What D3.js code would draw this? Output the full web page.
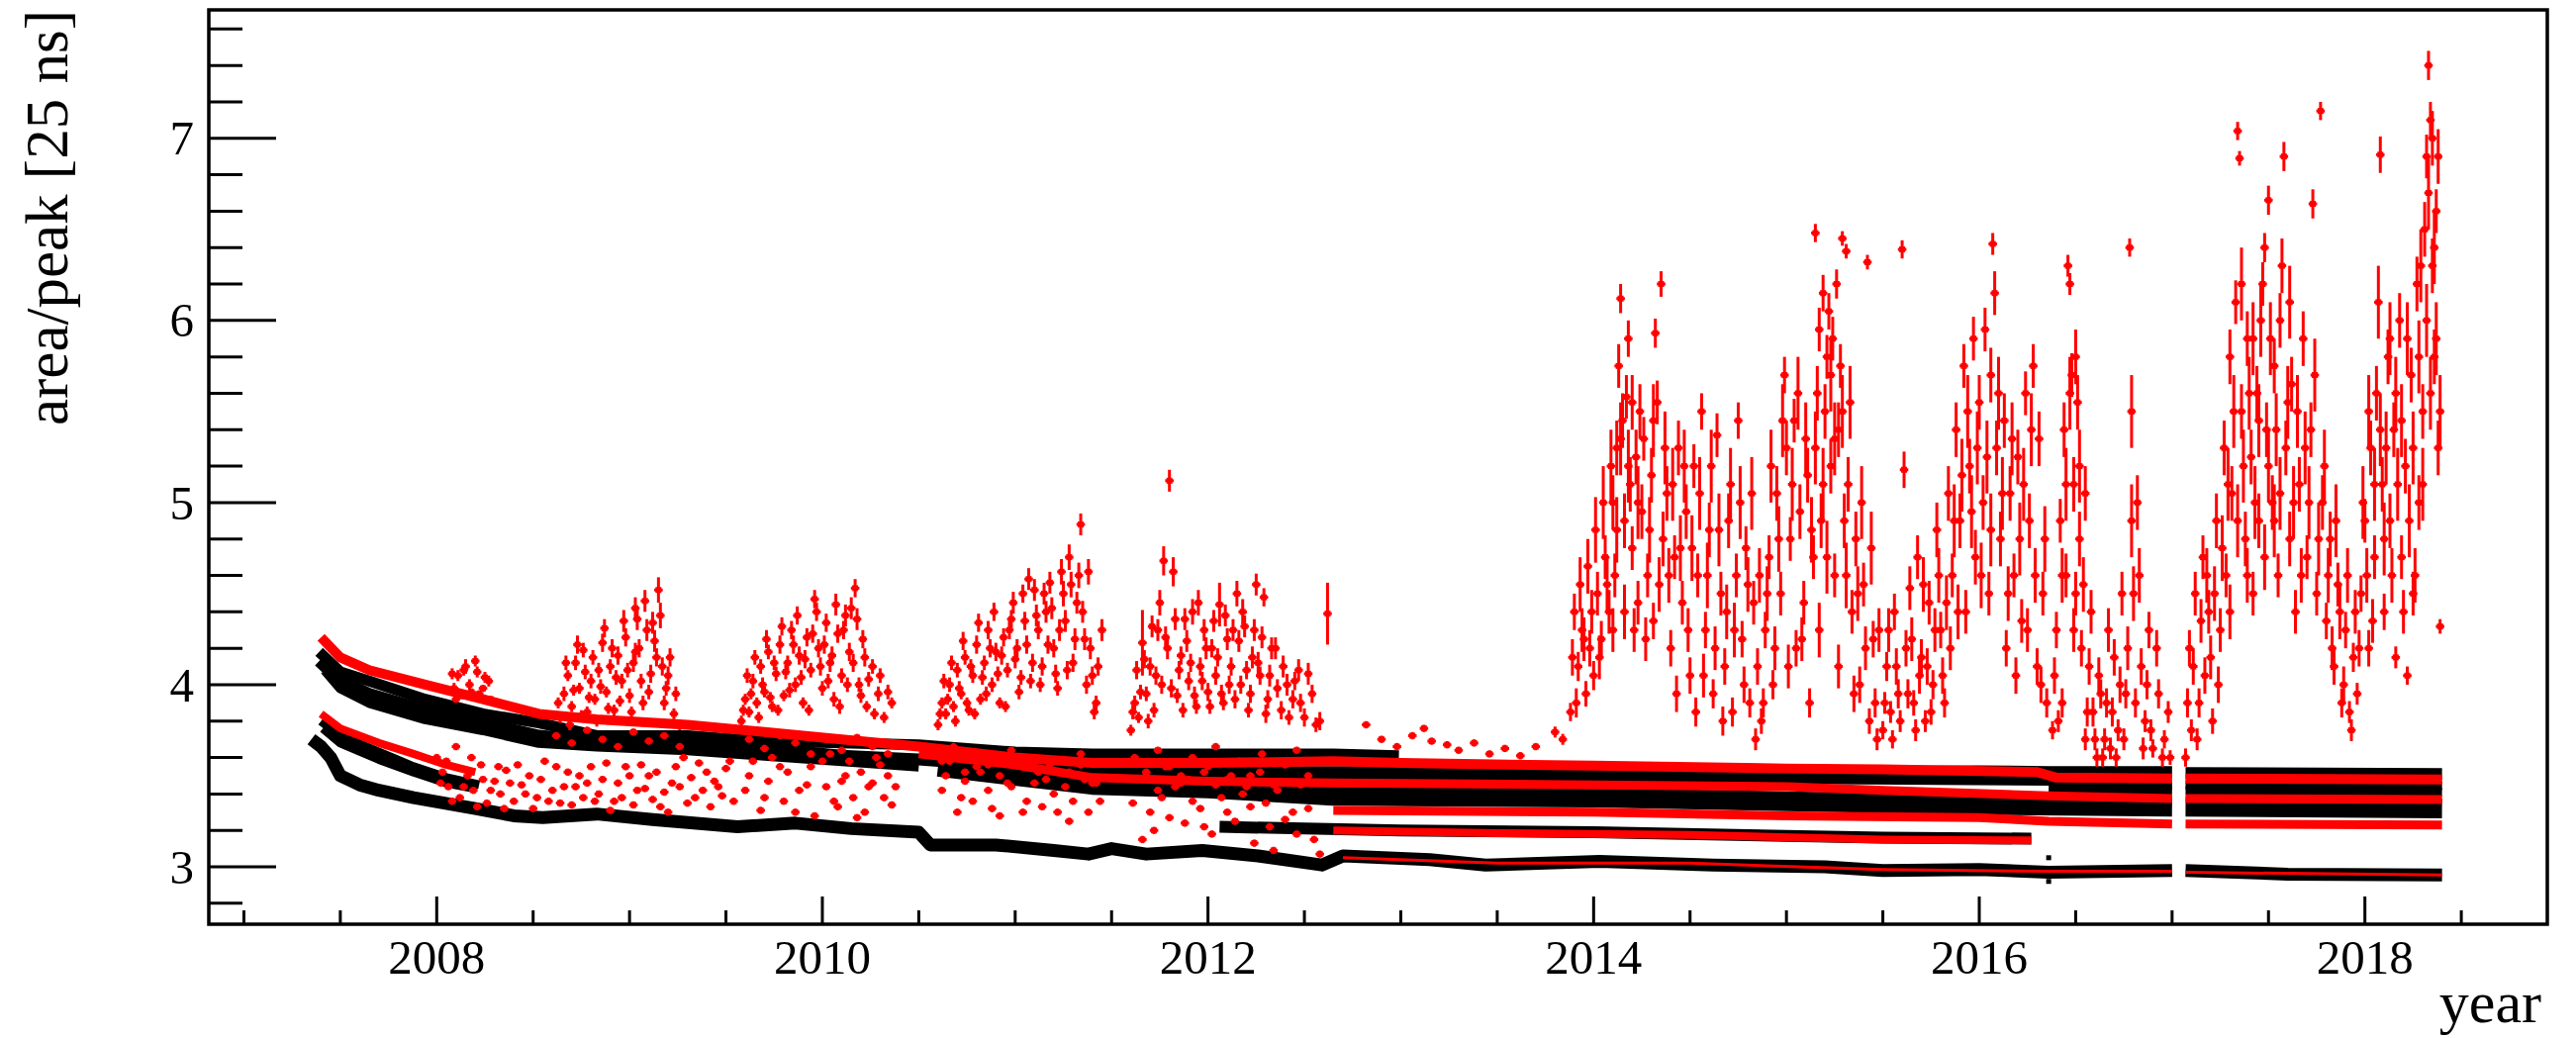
<!DOCTYPE html>
<html>
<head>
<meta charset="utf-8">
<script src="https://cdn.jsdelivr.net/npm/d3@7"></script>
<style>
  body { margin: 0; background: #fff; }
  text { font-family: "Liberation Serif", "Times New Roman", serif; fill: #000; }
</style>
</head>
<body>
<div id="chart"></div>
<script>
// ---- axis ticks ----
const yMajorTicks = [3, 4, 5, 6, 7];
const yMinorTicks = [2.8, 3.2, 3.4, 3.6, 3.8, 4.2, 4.4, 4.6, 4.8, 5.2, 5.4, 5.6, 5.8, 6.2, 6.4, 6.6, 6.8, 7.2, 7.4, 7.6];
const xMajorTicks = [2008, 2010, 2012, 2014, 2016, 2018];
const xMinorTicks = [2007, 2007.5, 2008.5, 2009, 2009.5, 2010.5, 2011, 2011.5, 2012.5, 2013, 2013.5,
                     2014.5, 2015, 2015.5, 2016.5, 2017, 2017.5, 2018.5];

// ---- stable channels: [year, area/peak], null = no data ----
const blackBottom = [[2007.35,3.7],[2007.4,3.66],[2007.45,3.6],[2007.5,3.5],[2007.6,3.45],[2007.7,3.42],[2007.88,3.38],
  [2008.2,3.32],[2008.4,3.28],[2008.55,3.27],[2008.83,3.29],[2009.12,3.26],[2009.56,3.22],[2009.86,3.24],[2010.15,3.21],
  [2010.5,3.19],[2010.56,3.12],[2010.9,3.12],[2011.2,3.09],[2011.38,3.07],[2011.5,3.1],[2011.68,3.07],[2011.97,3.09],
  [2012.26,3.06],[2012.59,3.01],[2012.7,3.06],[2013.15,3.04],[2013.44,3.01],[2014.03,3.03],[2014.62,3.01],[2015.2,3.0],
  [2015.5,2.98],[2016.0,2.985],[2016.36,2.97],[2017.0,2.98],[2017.03,null],[2017.07,2.98],[2017.6,2.96],[2018.4,2.955]];
const blackSecond = [[2012.06,3.22],[2012.5,3.21],[2013.0,3.2],[2014.0,3.19],[2015.0,3.17],[2015.5,3.16],[2016.27,3.155]];
const blackEarlyA = [[2007.4,3.8],[2007.5,3.72],[2007.7,3.63],[2007.88,3.55],[2008.05,3.49],[2008.22,3.45]];
const blackEarlyB = [[2007.41,3.76],[2007.5,3.68],[2007.7,3.59],[2007.88,3.52],[2008.05,3.46],[2008.2,3.43]];
const blackTopA = [[2007.39,4.18],[2007.5,4.07],[2007.65,4.02],[2007.94,3.92],[2008.24,3.84],[2008.53,3.79],[2008.83,3.72],
  [2009.3,3.72],[2009.7,3.69],[2010.1,3.68],[2010.5,3.67],[2011.0,3.63],[2011.4,3.62],[2012.0,3.62],[2012.65,3.62],[2012.99,3.61]];
const blackTopB = [[2007.39,4.13],[2007.5,4.02],[2007.65,3.95],[2007.94,3.86],[2008.24,3.79],[2008.53,3.72],[2008.83,3.69],
  [2009.3,3.67],[2009.7,3.65],[2010.1,3.61],[2010.5,3.59],[2011.0,3.55],[2011.4,3.53],[2012.0,3.52],[2012.65,3.52],[2013.0,3.52],
  [2014.0,3.52],[2015.0,3.52],[2016.0,3.525],[2016.36,3.52],[2017.0,3.52],[2017.03,null],[2017.07,3.515],[2018.4,3.51]];
const blackTopC = [[2007.42,4.08],[2007.5,3.98],[2007.65,3.9],[2007.94,3.81],[2008.24,3.75],[2008.53,3.68],[2008.83,3.66],
  [2009.3,3.64],[2009.7,3.61],[2010.1,3.58],[2010.5,3.55]];
const blackMain = [[2011.0,3.51],[2012.0,3.49],[2012.65,3.49],[2014.0,3.485],[2015.0,3.48],[2016.36,3.47],[2017.0,3.45],
  [2017.03,null],[2017.07,3.45],[2018.4,3.445]];
const blackMid = [[2010.6,3.55],[2011.0,3.5],[2011.4,3.45],[2012.0,3.43],[2012.65,3.39],[2014.0,3.38],[2015.0,3.36],
  [2016.0,3.34],[2017.0,3.33],[2017.03,null],[2017.07,3.33],[2018.4,3.32]];
const blackMidB = [[2016.36,3.43],[2017.0,3.42],[2017.03,null],[2017.07,3.42],[2018.4,3.41]];
const redTop = [[2007.4,4.26],[2007.5,4.15],[2007.65,4.08],[2007.94,4.0],[2008.24,3.92],[2008.53,3.84],[2008.83,3.81],
  [2009.3,3.78],[2009.7,3.74],[2010.1,3.7],[2010.5,3.66],[2011.0,3.6],[2011.4,3.57],[2012.0,3.57],[2012.65,3.58],[2013.0,3.57],
  [2014.0,3.555],[2015.0,3.54],[2015.5,3.535],[2016.3,3.52],[2016.4,3.49],[2017.0,3.485],[2017.03,null],[2017.07,3.485],[2018.4,3.48]];
const redEarly = [[2007.4,3.84],[2007.5,3.76],[2007.7,3.68],[2007.88,3.62],[2008.05,3.56],[2008.2,3.52]];
const redMid = [[2010.5,3.62],[2011.0,3.56],[2011.4,3.49],[2012.0,3.47],[2012.65,3.46],[2014.0,3.45],[2015.0,3.44],
  [2015.5,3.42],[2016.36,3.39],[2017.0,3.375],[2017.03,null],[2017.07,3.375],[2018.4,3.37]];
const redLow = [[2012.65,3.31],[2014.0,3.3],[2015.0,3.28],[2016.0,3.27],[2016.36,3.25],[2017.0,3.235],[2017.03,null],
  [2017.07,3.235],[2018.4,3.23]];
const redSecond = [[2012.65,3.2],[2013.5,3.185],[2014.5,3.175],[2015.5,3.15],[2016.27,3.145]];
const redBottom = [[2012.7,3.05],[2013.5,3.02],[2014.5,3.02],[2015.5,2.985],[2016.36,2.975],[2017.0,2.975],[2017.03,null],
  [2017.07,2.97],[2018.4,2.955]];
const blackDots = [[2016.36,3.05],[2016.36,2.95],[2016.36,2.92]];

// ---- unstable channel: [year, area/peak, error] ----
const redInBand = [[2008.62,3.72,0.02],[2008.7,3.68,0.02],[2008.78,3.75,0.02],[2008.86,3.7,0.02],[2008.94,3.66,0.02],
  [2009.02,3.74,0.02],[2009.1,3.69,0.02],[2009.18,3.72,0.02],[2009.26,3.66,0.02],[2009.62,3.7,0.02],[2009.7,3.65,0.02],
  [2009.78,3.72,0.02],[2009.86,3.68,0.02],[2009.94,3.62,0.02],[2010.02,3.7,0.02],[2010.1,3.64,0.02],[2010.18,3.71,0.02],
  [2010.26,3.66,0.02],[2010.34,3.62,0.02],[2010.62,3.58,0.02],[2010.68,3.66,0.02],[2010.74,3.52,0.02],[2010.8,3.62,0.02],
  [2010.86,3.56,0.02],[2010.92,3.5,0.02],[2010.98,3.64,0.02],[2011.04,3.55,0.02],[2011.1,3.6,0.02],[2011.16,3.48,0.02],
  [2011.22,3.58,0.02],[2011.28,3.52,0.02],[2011.34,3.62,0.02],[2011.4,3.46,0.02],[2011.62,3.6,0.02],[2011.68,3.5,0.02],
  [2011.74,3.64,0.02],[2011.8,3.55,0.02],[2011.86,3.46,0.02],[2011.92,3.6,0.02],[2011.98,3.52,0.02],[2012.04,3.66,0.02],
  [2012.1,3.48,0.02],[2012.16,3.58,0.02],[2012.22,3.5,0.02],[2012.28,3.62,0.02],[2012.34,3.45,0.02],[2012.4,3.56,0.02],
  [2012.46,3.64,0.02],[2012.52,3.5,0.02],[2012.58,3.58,0.02]];
const red2008 = [[2008.09,3.98,0.03],[2008.11,4.05,0.03],[2008.13,3.94,0.02],[2008.15,4.1,0.04],[2008.17,4.0,0.03],
  [2008.2,4.13,0.03],[2008.22,3.95,0.02],[2008.25,4.04,0.03],[2008.28,3.92,0.02],[2008.08,4.06,0.03],[2008.1,3.92,0.02],
  [2008.14,4.08,0.03],[2008.18,3.96,0.02],[2008.21,4.07,0.03],[2008.24,3.98,0.02],[2008.27,4.02,0.03],
  [2008.0,3.6,0.02],[2008.03,3.52,0.02],[2008.06,3.44,0.02],[2008.1,3.66,0.02],[2008.12,3.38,0.02],[2008.16,3.5,0.02],
  [2008.19,3.42,0.02],[2008.23,3.56,0.02],[2008.26,3.35,0.02],[2008.3,3.47,0.02],[2008.33,3.4,0.02],[2008.36,3.53,0.02],
  [2008.4,3.36,0.02],[2008.44,3.45,0.02],[2008.48,3.5,0.02],[2008.52,3.38,0.02],[2008.56,3.58,0.02],[2008.6,3.42,0.02],
  [2008.64,3.35,0.02],[2008.68,3.52,0.02],[2008.72,3.44,0.02],[2008.76,3.38,0.02],[2008.8,3.55,0.02],
  [2008.02,3.46,0.02],[2008.05,3.58,0.02],[2008.08,3.36,0.02],[2008.14,3.44,0.02],[2008.18,3.6,0.02],[2008.21,3.33,0.02],
  [2008.24,3.48,0.02],[2008.28,3.42,0.02],[2008.32,3.55,0.02],[2008.35,3.32,0.02],[2008.38,3.46,0.02],[2008.42,3.56,0.02],
  [2008.46,3.4,0.02],[2008.5,3.32,0.02],[2008.54,3.48,0.02],[2008.58,3.36,0.02],[2008.62,3.55,0.02],[2008.66,3.44,0.02],
  [2008.7,3.34,0.02],[2008.74,3.5,0.02],[2008.78,3.46,0.02],[2008.82,3.36,0.02]];
const red2009 = [[2008.64,3.82,0.03],[2008.66,3.95,0.04],[2008.68,4.05,0.03],[2008.7,3.88,0.03],[2008.72,4.12,0.04],
  [2008.74,3.98,0.03],[2008.76,4.19,0.04],[2008.78,3.85,0.03],[2008.8,4.02,0.04],[2008.82,3.92,0.03],[2008.84,4.08,0.04],
  [2008.86,4.23,0.05],[2008.88,3.96,0.03],[2008.9,4.1,0.04],[2008.92,3.86,0.03],[2008.94,4.16,0.05],[2008.96,4.02,0.04],
  [2008.98,4.26,0.05],[2009.0,3.94,0.04],[2009.02,4.12,0.05],[2009.03,4.42,0.06],[2009.05,4.2,0.05],[2009.07,3.9,0.04],
  [2009.09,4.3,0.06],[2009.11,4.06,0.05],[2009.13,4.24,0.06],[2009.15,4.52,0.07],[2009.17,4.1,0.05],[2009.19,3.98,0.04],
  [2009.21,4.15,0.05],[2009.23,3.84,0.03],[2009.26,3.78,0.03],
  [2008.63,3.9,0.03],[2008.67,4.12,0.04],[2008.69,3.78,0.03],[2008.71,3.97,0.03],[2008.73,4.22,0.05],[2008.75,3.83,0.03],
  [2008.77,4.07,0.04],[2008.79,3.93,0.03],[2008.81,4.15,0.04],[2008.83,3.8,0.03],[2008.85,3.99,0.04],[2008.87,4.31,0.05],
  [2008.89,3.87,0.03],[2008.91,4.2,0.05],[2008.93,4.04,0.04],[2008.95,3.91,0.03],[2008.97,4.35,0.06],[2008.99,4.08,0.04],
  [2009.01,3.85,0.03],[2009.03,4.18,0.05],[2009.04,4.36,0.06],[2009.06,4.02,0.04],[2009.08,4.46,0.06],[2009.1,3.96,0.04],
  [2009.12,4.34,0.06],[2009.14,4.15,0.05],[2009.16,4.38,0.07],[2009.18,3.9,0.04],[2009.2,4.05,0.05],[2009.24,3.95,0.04],
  [2008.86,3.48,0.02],[2008.92,3.36,0.02],[2008.98,3.55,0.02],[2009.04,3.42,0.02],[2009.1,3.5,0.02],[2009.16,3.33,0.02],
  [2009.22,3.46,0.02],[2009.28,3.6,0.02],[2009.34,3.38,0.02],[2009.4,3.52,0.02],[2009.46,3.44,0.02],[2009.52,3.58,0.02],
  [2008.84,3.4,0.02],[2008.88,3.57,0.02],[2008.9,3.31,0.02],[2008.94,3.46,0.02],[2008.96,3.38,0.02],[2009.0,3.5,0.02],
  [2009.02,3.34,0.02],[2009.06,3.56,0.02],[2009.08,3.43,0.02],[2009.12,3.37,0.02],[2009.14,3.52,0.02],[2009.18,3.41,0.02],
  [2009.2,3.3,0.02],[2009.24,3.55,0.02],[2009.26,3.44,0.02],[2009.3,3.35,0.02],[2009.32,3.49,0.02],[2009.36,3.57,0.02],
  [2009.38,3.42,0.02],[2009.42,3.33,0.02],[2009.44,3.47,0.02],[2009.48,3.39,0.02],[2009.5,3.54,0.02],[2009.54,3.36,0.02]];
const red2010 = [[2009.58,3.8,0.03],[2009.6,3.92,0.03],[2009.62,3.85,0.03],[2009.64,4.02,0.04],[2009.66,3.9,0.03],
  [2009.68,4.1,0.04],[2009.7,3.96,0.03],[2009.72,4.18,0.04],[2009.74,3.88,0.03],[2009.76,4.06,0.04],[2009.78,4.22,0.05],
  [2009.8,3.94,0.03],[2009.82,4.12,0.04],[2009.84,4.3,0.05],[2009.86,4.0,0.04],[2009.88,4.16,0.05],[2009.9,3.9,0.03],
  [2009.92,4.26,0.05],[2009.94,4.08,0.04],[2009.96,4.47,0.05],[2009.98,4.2,0.05],[2010.0,3.98,0.04],[2010.02,4.34,0.05],
  [2010.04,4.12,0.05],[2010.06,3.92,0.04],[2010.08,4.28,0.05],[2010.1,4.05,0.04],[2010.12,4.38,0.06],[2010.14,4.18,0.05],
  [2010.17,4.53,0.05],[2010.19,4.0,0.04],[2010.21,4.25,0.05],[2010.23,3.88,0.03],[2010.26,4.1,0.04],[2010.29,3.95,0.04],
  [2010.32,3.82,0.03],[2010.36,3.9,0.03],
  [2009.59,3.86,0.03],[2009.61,4.05,0.04],[2009.63,3.95,0.03],[2009.65,4.15,0.04],[2009.67,3.82,0.03],[2009.69,4.0,0.04],
  [2009.71,4.25,0.05],[2009.73,3.93,0.03],[2009.75,4.12,0.04],[2009.77,3.86,0.03],[2009.79,4.32,0.05],[2009.81,4.07,0.04],
  [2009.83,3.97,0.04],[2009.85,4.22,0.05],[2009.87,4.38,0.05],[2009.89,4.04,0.04],[2009.91,4.14,0.05],[2009.93,3.86,0.03],
  [2009.95,4.28,0.05],[2009.97,4.4,0.05],[2009.99,4.1,0.05],[2010.01,4.22,0.05],[2010.03,4.02,0.04],[2010.05,4.16,0.05],
  [2010.07,4.44,0.06],[2010.09,3.88,0.04],[2010.11,4.3,0.05],[2010.13,4.0,0.04],[2010.15,4.42,0.06],[2010.16,4.12,0.05],
  [2010.18,4.36,0.06],[2010.2,3.94,0.04],[2010.22,4.15,0.05],[2010.24,4.03,0.04],[2010.27,3.84,0.03],[2010.3,4.05,0.04],
  [2010.34,3.96,0.04],
  [2009.62,3.5,0.02],[2009.7,3.38,0.02],[2009.78,3.55,0.02],[2009.86,3.3,0.02],[2009.92,3.45,0.02],[2010.0,3.58,0.02],
  [2010.06,3.36,0.02],[2010.12,3.5,0.02],[2010.18,3.27,0.02],[2010.24,3.44,0.02],[2010.3,3.56,0.02],[2010.36,3.34,0.02],
  [2009.6,3.42,0.02],[2009.64,3.58,0.02],[2009.68,3.31,0.02],[2009.72,3.47,0.02],[2009.74,3.6,0.02],[2009.8,3.36,0.02],
  [2009.82,3.52,0.02],[2009.88,3.42,0.02],[2009.94,3.55,0.02],[2009.96,3.28,0.02],[2010.02,3.44,0.02],[2010.04,3.62,0.02],
  [2010.08,3.33,0.02],[2010.1,3.47,0.02],[2010.14,3.58,0.02],[2010.16,3.38,0.02],[2010.2,3.52,0.02],[2010.22,3.3,0.02],
  [2010.26,3.46,0.02],[2010.28,3.6,0.02],[2010.32,3.38,0.02],[2010.34,3.5,0.02],[2010.38,3.44,0.02]];
const red2011 = [[2010.6,3.78,0.03],[2010.62,3.9,0.03],[2010.64,3.84,0.03],[2010.66,4.0,0.04],[2010.68,3.88,0.03],
  [2010.7,4.08,0.04],[2010.72,3.95,0.03],[2010.74,4.15,0.04],[2010.76,3.86,0.03],[2010.78,4.05,0.04],[2010.8,4.22,0.05],
  [2010.82,3.92,0.03],[2010.84,4.12,0.04],[2010.86,4.3,0.05],[2010.88,4.0,0.04],[2010.9,4.18,0.05],[2010.92,3.9,0.03],
  [2010.94,4.26,0.05],[2010.96,4.08,0.04],[2010.98,4.36,0.05],[2011.0,4.14,0.05],[2011.02,3.96,0.04],[2011.04,4.5,0.05],
  [2011.06,4.22,0.05],[2011.08,4.02,0.04],[2011.1,4.52,0.06],[2011.12,4.3,0.05],[2011.14,4.1,0.05],[2011.16,4.4,0.06],
  [2011.18,4.56,0.06],[2011.2,4.2,0.05],[2011.22,3.98,0.04],[2011.24,4.62,0.07],[2011.26,4.35,0.06],[2011.28,4.7,0.07],
  [2011.3,4.12,0.05],[2011.32,4.45,0.06],[2011.34,4.88,0.06],[2011.36,4.25,0.06],[2011.38,4.62,0.07],[2011.4,4.05,0.05],
  [2011.42,3.9,0.04],[2011.45,4.3,0.06],
  [2010.61,3.84,0.03],[2010.63,4.02,0.04],[2010.65,3.92,0.03],[2010.67,4.12,0.04],[2010.69,3.8,0.03],[2010.71,3.98,0.04],
  [2010.73,4.24,0.05],[2010.75,3.9,0.03],[2010.77,4.1,0.04],[2010.79,3.84,0.03],[2010.81,4.34,0.05],[2010.83,4.04,0.04],
  [2010.85,3.95,0.04],[2010.87,4.2,0.05],[2010.89,4.4,0.05],[2010.91,4.06,0.04],[2010.93,4.16,0.05],[2010.95,3.88,0.03],
  [2010.97,4.3,0.05],[2010.99,4.45,0.06],[2011.01,4.2,0.05],[2011.03,4.04,0.04],[2011.05,4.35,0.05],[2011.07,4.58,0.06],
  [2011.09,4.12,0.05],[2011.11,4.38,0.06],[2011.13,4.0,0.04],[2011.15,4.5,0.06],[2011.17,4.22,0.05],[2011.19,4.42,0.06],
  [2011.21,4.06,0.05],[2011.23,4.3,0.06],[2011.25,4.5,0.07],[2011.27,4.08,0.05],[2011.29,4.55,0.07],[2011.31,4.25,0.06],
  [2011.33,4.6,0.07],[2011.35,4.4,0.06],[2011.37,4.0,0.05],[2011.39,4.2,0.06],[2011.41,3.85,0.04],[2011.43,4.1,0.05],
  [2010.64,3.5,0.02],[2010.72,3.38,0.02],[2010.8,3.55,0.02],[2010.88,3.32,0.02],[2010.96,3.46,0.02],[2011.04,3.3,0.02],
  [2011.12,3.52,0.02],[2011.2,3.4,0.02],[2011.28,3.25,0.02],[2011.36,3.48,0.02],[2011.44,3.36,0.02],
  [2010.62,3.42,0.02],[2010.66,3.58,0.02],[2010.7,3.3,0.02],[2010.74,3.47,0.02],[2010.78,3.36,0.02],[2010.82,3.52,0.02],
  [2010.86,3.42,0.02],[2010.9,3.58,0.02],[2010.92,3.28,0.02],[2010.98,3.44,0.02],[2011.02,3.56,0.02],[2011.06,3.36,0.02],
  [2011.1,3.46,0.02],[2011.14,3.33,0.02],[2011.18,3.56,0.02],[2011.22,3.3,0.02],[2011.26,3.44,0.02],[2011.3,3.36,0.02],
  [2011.34,3.56,0.02],[2011.38,3.3,0.02],[2011.42,3.46,0.02]];
const red2012 = [[2011.6,3.75,0.03],[2011.62,3.9,0.04],[2011.64,3.82,0.03],[2011.66,4.23,0.18],[2011.68,3.95,0.04],
  [2011.7,4.1,0.05],[2011.72,3.86,0.04],[2011.74,4.3,0.06],[2011.76,4.0,0.05],[2011.77,4.68,0.08],[2011.79,4.2,0.06],
  [2011.8,5.12,0.06],[2011.82,4.62,0.08],[2011.84,3.94,0.04],[2011.86,4.16,0.05],[2011.88,4.36,0.06],[2011.9,4.02,0.05],
  [2011.92,4.4,0.07],[2011.94,3.88,0.04],[2011.96,4.1,0.05],[2011.98,4.3,0.06],[2012.0,3.96,0.05],[2012.02,4.2,0.05],
  [2012.04,4.05,0.05],[2012.06,4.44,0.12],[2012.08,3.9,0.04],[2012.1,4.25,0.06],[2012.12,4.1,0.05],[2012.15,4.5,0.07],
  [2012.17,4.0,0.05],[2012.19,4.32,0.06],[2012.21,3.86,0.04],[2012.23,4.15,0.06],[2012.25,4.55,0.06],[2012.27,4.05,0.05],
  [2012.29,4.48,0.05],[2012.31,3.92,0.05],[2012.33,4.2,0.06],[2012.36,3.98,0.05],[2012.39,4.1,0.06],[2012.42,3.82,0.04],
  [2012.45,4.02,0.05],[2012.48,3.9,0.05],[2012.52,4.06,0.06],[2012.56,3.78,0.04],[2012.62,4.39,0.17],
  [2011.61,3.85,0.04],[2011.63,4.08,0.05],[2011.65,3.96,0.04],[2011.67,4.14,0.05],[2011.69,3.8,0.04],[2011.71,4.32,0.06],
  [2011.73,4.05,0.05],[2011.75,4.45,0.07],[2011.78,4.26,0.06],[2011.81,3.98,0.05],[2011.83,4.36,0.06],[2011.85,4.08,0.05],
  [2011.87,3.86,0.04],[2011.89,4.24,0.06],[2011.91,4.12,0.05],[2011.93,3.94,0.05],[2011.95,4.45,0.07],[2011.97,4.02,0.05],
  [2011.99,4.2,0.06],[2012.01,3.88,0.04],[2012.03,4.35,0.06],[2012.05,4.15,0.05],[2012.07,3.95,0.05],[2012.09,4.38,0.06],
  [2012.11,4.0,0.05],[2012.13,4.3,0.06],[2012.14,3.92,0.05],[2012.16,4.24,0.06],[2012.18,4.4,0.07],[2012.2,4.08,0.05],
  [2012.22,3.95,0.05],[2012.24,4.3,0.06],[2012.26,4.12,0.06],[2012.28,4.26,0.06],[2012.3,3.84,0.05],[2012.32,4.05,0.06],
  [2012.35,4.2,0.06],[2012.38,3.86,0.05],[2012.41,4.0,0.06],[2012.44,3.92,0.05],[2012.47,4.08,0.06],[2012.5,3.82,0.05],
  [2012.54,3.95,0.05],[2012.58,3.8,0.05],
  [2011.63,3.48,0.02],[2011.66,3.15,0.02],[2011.7,3.3,0.02],[2011.74,3.42,0.02],[2011.8,3.27,0.02],[2011.86,3.5,0.02],
  [2011.92,3.36,0.02],[2011.98,3.22,0.02],[2012.04,3.45,0.02],[2012.1,3.3,0.02],[2012.18,3.4,0.02],[2012.24,3.13,0.02],
  [2012.3,3.35,0.02],[2012.34,3.09,0.02],[2012.4,3.26,0.02],[2012.46,3.18,0.02],[2012.52,3.32,0.02],[2012.58,3.07,0.02],
  [2011.61,3.35,0.02],[2011.68,3.52,0.02],[2011.72,3.2,0.02],[2011.76,3.38,0.02],[2011.78,3.55,0.02],[2011.83,3.44,0.02],
  [2011.88,3.24,0.02],[2011.9,3.48,0.02],[2011.96,3.32,0.02],[2012.0,3.55,0.02],[2012.02,3.18,0.02],[2012.07,3.38,0.02],
  [2012.12,3.5,0.02],[2012.14,3.25,0.02],[2012.2,3.44,0.02],[2012.22,3.33,0.02],[2012.27,3.52,0.02],[2012.32,3.22,0.02],
  [2012.36,3.42,0.02],[2012.44,3.3,0.02],[2012.48,3.45,0.02],[2012.55,3.15,0.02]];
const red2013 = [[2012.82,3.78,0.02],[2012.9,3.7,0.02],[2012.98,3.66,0.02],[2013.06,3.72,0.02],[2013.12,3.76,0.02],
  [2013.16,3.69,0.02],[2013.24,3.67,0.02],[2013.3,3.64,0.02],[2013.38,3.68,0.02],[2013.46,3.62,0.02],[2013.54,3.65,0.02],
  [2013.62,3.61,0.02],[2013.7,3.66,0.02],[2013.8,3.74,0.03],[2013.84,3.7,0.03]];
const red2014 = [[2013.88,3.85,0.05],[2013.9,4.4,0.1],[2013.92,4.1,0.08],[2013.94,4.3,0.12],[2013.96,3.95,0.07],
  [2013.98,4.2,0.1],[2014.0,4.05,0.08],[2014.02,4.5,0.12],[2014.04,4.25,0.1],[2014.06,4.7,0.12],[2014.08,4.4,0.12],
  [2014.1,5.0,0.15],[2014.11,4.6,0.12],[2014.12,5.3,0.15],[2014.13,5.75,0.12],[2014.14,6.12,0.08],[2014.15,5.45,0.15],
  [2014.16,4.9,0.15],[2014.17,5.58,0.12],[2014.18,5.9,0.1],[2014.19,5.1,0.15],[2014.2,4.75,0.12],[2014.22,5.25,0.15],
  [2014.23,4.45,0.12],[2014.25,4.95,0.15],[2014.26,5.35,0.12],[2014.28,4.6,0.12],[2014.3,5.15,0.15],[2014.31,4.35,0.1],
  [2014.32,5.93,0.08],[2014.33,5.55,0.12],[2014.35,6.2,0.07],[2014.36,4.8,0.15],[2014.38,5.05,0.15],[2014.4,4.2,0.1],
  [2014.42,4.7,0.12],[2014.44,5.3,0.15],[2014.46,4.45,0.12],[2014.48,4.95,0.15],[2014.5,4.05,0.1],[2014.52,5.2,0.12],
  [2014.54,4.6,0.12],[2014.56,5.5,0.1],[2014.58,4.3,0.1],[2014.6,4.85,0.15],[2014.62,3.95,0.08],[2014.64,5.37,0.12],
  [2014.66,4.5,0.12],[2014.68,4.1,0.1],[2014.7,4.9,0.15],[2014.72,3.85,0.08],[2014.74,4.6,0.12],[2014.75,5.45,0.1],
  [2014.77,4.25,0.1],[2014.79,4.75,0.12],[2014.81,3.9,0.08],[2014.83,4.45,0.12],[2014.85,4.1,0.1],[2014.87,3.8,0.07],
  [2013.89,4.15,0.1],[2013.91,3.9,0.08],[2013.93,4.55,0.15],[2013.95,4.25,0.12],[2013.97,4.65,0.15],[2013.99,4.4,0.12],
  [2014.01,4.85,0.18],[2014.03,4.15,0.12],[2014.05,5.0,0.2],[2014.07,4.55,0.15],[2014.09,5.2,0.2],[2014.1,4.3,0.12],
  [2014.12,4.85,0.18],[2014.14,5.35,0.2],[2014.16,4.4,0.15],[2014.18,5.2,0.2],[2014.2,5.55,0.15],[2014.21,4.3,0.12],
  [2014.23,5.0,0.2],[2014.24,5.5,0.15],[2014.27,4.25,0.12],[2014.29,4.85,0.18],[2014.31,5.45,0.2],[2014.34,4.55,0.15],
  [2014.37,5.3,0.2],[2014.39,4.6,0.15],[2014.41,5.1,0.2],[2014.43,3.95,0.1],[2014.45,4.75,0.18],[2014.47,5.2,0.2],
  [2014.49,4.3,0.12],[2014.51,4.75,0.18],[2014.53,3.85,0.08],[2014.55,5.05,0.2],[2014.57,4.05,0.12],[2014.59,4.6,0.18],
  [2014.61,5.2,0.2],[2014.63,4.2,0.12],[2014.65,4.85,0.2],[2014.67,3.8,0.08],[2014.69,4.4,0.15],[2014.71,5.1,0.2],
  [2014.73,4.3,0.15],[2014.76,5.0,0.2],[2014.78,4.0,0.1],[2014.8,4.55,0.15],[2014.82,5.05,0.2],[2014.84,3.7,0.06],
  [2014.86,4.6,0.15]];
const red2015 = [[2014.89,4.3,0.1],[2014.91,4.7,0.12],[2014.93,4.0,0.08],[2014.95,5.05,0.15],[2014.97,4.5,0.12],
  [2014.99,5.7,0.1],[2015.0,5.3,0.15],[2015.02,4.8,0.12],[2015.04,5.45,0.12],[2015.05,4.2,0.1],[2015.07,4.95,0.15],
  [2015.09,4.45,0.12],[2015.11,5.15,0.15],[2015.12,3.9,0.08],[2015.14,4.7,0.12],[2015.15,6.48,0.05],[2015.16,5.6,0.15],
  [2015.17,5.95,0.12],[2015.18,4.9,0.15],[2015.19,6.15,0.1],[2015.2,5.5,0.15],[2015.21,5.8,0.12],[2015.22,6.05,0.1],
  [2015.23,5.2,0.15],[2015.24,5.9,0.12],[2015.25,4.6,0.12],[2015.26,6.2,0.08],[2015.27,5.4,0.15],[2015.28,5.75,0.12],
  [2015.29,6.45,0.04],[2015.3,4.9,0.15],[2015.31,6.38,0.04],[2015.32,5.1,0.15],[2015.34,4.4,0.12],[2015.36,4.8,0.15],
  [2015.38,4.0,0.1],[2015.4,4.55,0.12],[2015.42,6.32,0.04],[2015.43,3.8,0.07],[2015.45,4.25,0.1],[2015.47,3.7,0.06],
  [2014.88,3.9,0.08],[2014.9,4.5,0.15],[2014.92,5.2,0.2],[2014.94,4.2,0.12],[2014.96,4.8,0.18],[2014.98,5.45,0.2],
  [2015.01,4.1,0.12],[2015.03,5.1,0.2],[2015.06,5.6,0.2],[2015.08,4.25,0.12],[2015.1,5.35,0.2],[2015.13,4.85,0.18],
  [2015.15,5.3,0.2],[2015.17,4.3,0.15],[2015.19,5.1,0.2],[2015.21,4.7,0.2],[2015.23,5.7,0.2],[2015.25,5.35,0.2],
  [2015.27,4.1,0.12],[2015.29,5.5,0.2],[2015.31,4.6,0.18],[2015.33,5.55,0.2],[2015.35,3.95,0.1],[2015.37,4.5,0.15],
  [2015.39,5.0,0.2],[2015.41,4.2,0.12],[2015.44,4.75,0.2],[2015.46,3.9,0.08],[2015.48,4.3,0.12]];
const red2016 = [[2015.5,3.75,0.05],[2015.52,4.1,0.08],[2015.54,3.85,0.06],[2015.56,4.4,0.1],[2015.58,3.95,0.08],
  [2015.6,6.39,0.05],[2015.61,5.18,0.1],[2015.62,4.2,0.1],[2015.64,4.53,0.12],[2015.66,3.9,0.07],[2015.68,4.7,0.12],
  [2015.7,4.15,0.1],[2015.72,3.8,0.06],[2015.74,4.45,0.12],[2015.76,4.0,0.08],[2015.78,4.85,0.15],[2015.8,4.3,0.1],
  [2015.82,3.9,0.08],[2015.84,5.05,0.15],[2015.86,4.6,0.12],[2015.88,5.4,0.15],[2015.9,4.9,0.15],[2015.92,5.75,0.12],
  [2015.93,4.4,0.12],[2015.95,5.2,0.15],[2015.97,5.9,0.12],[2015.98,4.7,0.15],[2016.0,5.55,0.15],[2016.02,5.0,0.15],
  [2016.03,5.95,0.12],[2016.05,4.5,0.12],[2016.06,5.7,0.15],[2016.07,6.42,0.06],[2016.08,6.15,0.12],[2016.09,5.3,0.15],
  [2016.11,4.8,0.15],[2016.13,5.45,0.15],[2016.14,4.2,0.1],[2016.16,5.05,0.15],[2016.18,4.6,0.12],[2016.2,5.25,0.15],
  [2016.22,4.35,0.12],[2016.24,5.6,0.12],[2016.26,4.9,0.15],[2016.28,5.75,0.12],[2016.3,4.1,0.1],[2016.31,5.35,0.15],
  [2016.33,4.5,0.12],[2016.35,3.9,0.08],
  [2015.51,3.9,0.06],[2015.53,4.3,0.12],[2015.55,3.7,0.05],[2015.57,4.1,0.1],[2015.59,3.8,0.06],[2015.63,3.95,0.08],
  [2015.65,4.25,0.12],[2015.67,3.75,0.06],[2015.69,4.05,0.1],[2015.71,4.55,0.15],[2015.73,4.1,0.1],[2015.75,3.85,0.07],
  [2015.77,4.3,0.12],[2015.79,4.6,0.15],[2015.81,4.05,0.1],[2015.83,4.45,0.15],[2015.85,4.2,0.12],[2015.87,4.9,0.2],
  [2015.89,4.4,0.15],[2015.91,5.15,0.2],[2015.94,5.5,0.2],[2015.96,4.95,0.2],[2015.99,5.3,0.2],[2016.01,4.6,0.18],
  [2016.04,5.25,0.2],[2016.06,4.85,0.2],[2016.1,5.6,0.2],[2016.12,5.05,0.2],[2016.15,4.5,0.15],[2016.17,5.35,0.2],
  [2016.19,4.05,0.1],[2016.21,4.8,0.2],[2016.23,5.1,0.2],[2016.25,4.3,0.12],[2016.27,5.4,0.2],[2016.29,4.6,0.15],
  [2016.32,4.0,0.1],[2016.34,4.8,0.18]];
const red2016b = [[2016.38,3.75,0.05],[2016.4,4.3,0.1],[2016.42,4.9,0.12],[2016.43,3.9,0.08],[2016.44,5.4,0.15],
  [2016.45,4.6,0.12],[2016.46,6.3,0.06],[2016.47,6.2,0.06],[2016.48,5.7,0.12],[2016.49,5.1,0.15],[2016.5,4.5,0.12],
  [2016.51,5.55,0.15],[2016.52,4.8,0.15],[2016.53,4.2,0.1],[2016.55,5.05,0.15],[2016.56,3.85,0.08],[2016.58,4.4,0.12],
  [2016.6,3.7,0.06],[2016.62,4.05,0.1],[2016.64,3.6,0.05],[2016.66,3.9,0.08],[2016.68,3.65,0.06],[2016.7,4.15,0.1],
  [2016.72,3.75,0.06],[2016.74,4.5,0.12],[2016.76,3.95,0.08],[2016.78,6.4,0.05],[2016.79,5.5,0.2],[2016.8,4.5,0.15],
  [2016.82,5.0,0.15],[2016.84,4.1,0.1],[2016.86,3.8,0.06],[2016.88,4.3,0.1],[2016.9,3.65,0.05],[2016.93,3.95,0.08],
  [2016.96,3.7,0.05],[2016.99,3.6,0.04],
  [2016.39,4.05,0.1],[2016.41,3.8,0.06],[2016.43,4.6,0.15],[2016.45,5.1,0.2],[2016.47,5.6,0.2],[2016.49,4.3,0.12],
  [2016.5,5.8,0.15],[2016.52,5.2,0.2],[2016.54,4.55,0.15],[2016.55,3.7,0.06],[2016.57,4.1,0.1],[2016.59,3.85,0.08],
  [2016.61,3.6,0.05],[2016.63,3.95,0.08],[2016.65,3.7,0.06],[2016.67,4.3,0.12],[2016.69,3.85,0.08],[2016.71,3.6,0.05],
  [2016.73,4.0,0.1],[2016.75,3.7,0.06],[2016.77,4.2,0.12],[2016.79,4.9,0.2],[2016.81,3.9,0.08],[2016.83,4.6,0.15],
  [2016.85,3.65,0.06],[2016.87,4.0,0.08],[2016.89,3.75,0.06],[2016.92,4.2,0.1],[2016.95,3.6,0.05],[2016.98,3.85,0.06]];
const red2017 = [[2017.07,3.6,0.05],[2017.09,4.2,0.1],[2017.1,3.75,0.06],[2017.12,4.5,0.12],[2017.14,3.9,0.08],
  [2017.16,4.7,0.12],[2017.17,4.05,0.1],[2017.19,4.4,0.12],[2017.21,3.8,0.07],[2017.23,4.9,0.15],[2017.25,4.3,0.12],
  [2017.27,5.3,0.15],[2017.28,4.6,0.12],[2017.3,5.8,0.15],[2017.31,5.05,0.15],[2017.33,6.1,0.12],[2017.34,7.04,0.05],
  [2017.35,6.89,0.04],[2017.36,5.5,0.15],[2017.38,4.8,0.15],[2017.39,5.9,0.15],[2017.41,5.25,0.15],[2017.42,4.5,0.12],
  [2017.44,5.6,0.15],[2017.45,4.9,0.15],[2017.47,6.2,0.12],[2017.48,6.4,0.08],[2017.49,5.4,0.15],[2017.5,6.66,0.08],
  [2017.52,5.0,0.15],[2017.53,5.75,0.15],[2017.55,4.6,0.12],[2017.56,6.0,0.15],[2017.58,6.9,0.08],[2017.59,5.3,0.15],
  [2017.61,4.8,0.15],[2017.62,5.65,0.15],[2017.64,4.4,0.12],[2017.66,5.1,0.15],[2017.68,5.9,0.15],[2017.7,4.7,0.12],
  [2017.72,5.4,0.15],[2017.73,6.64,0.08],[2017.75,4.5,0.12],[2017.77,7.15,0.05],[2017.78,5.0,0.15],[2017.8,4.35,0.1],
  [2017.82,4.8,0.15],[2017.84,4.1,0.1],[2017.86,4.55,0.12],[2017.88,3.9,0.08],[2017.9,4.3,0.1],[2017.92,3.85,0.06],
  [2017.94,4.15,0.08],[2017.96,3.95,0.06],
  [2017.08,3.9,0.08],[2017.11,4.1,0.1],[2017.13,3.7,0.06],[2017.15,4.35,0.12],[2017.18,4.6,0.15],[2017.2,4.15,0.12],
  [2017.22,4.5,0.15],[2017.24,4.0,0.1],[2017.26,4.75,0.18],[2017.29,5.1,0.2],[2017.3,4.4,0.15],[2017.32,5.5,0.2],
  [2017.34,4.9,0.2],[2017.36,6.2,0.2],[2017.37,5.2,0.2],[2017.39,4.6,0.15],[2017.4,5.6,0.2],[2017.42,5.9,0.2],
  [2017.43,5.0,0.2],[2017.45,5.45,0.2],[2017.46,6.0,0.2],[2017.48,4.7,0.18],[2017.5,5.2,0.2],[2017.51,5.9,0.2],
  [2017.53,4.9,0.2],[2017.54,5.4,0.2],[2017.56,5.05,0.2],[2017.57,6.3,0.15],[2017.6,5.55,0.2],[2017.61,6.1,0.2],
  [2017.63,5.0,0.2],[2017.65,5.5,0.2],[2017.67,4.6,0.15],[2017.69,5.3,0.2],[2017.71,5.0,0.2],[2017.74,5.7,0.2],
  [2017.76,4.8,0.2],[2017.79,5.2,0.2],[2017.81,4.6,0.15],[2017.83,4.2,0.12],[2017.85,4.9,0.2],[2017.87,4.4,0.15],
  [2017.89,4.0,0.1],[2017.91,4.6,0.15],[2017.93,3.75,0.06],[2017.95,4.4,0.12]];
const red2018 = [[2017.98,4.5,0.1],[2018.0,4.9,0.12],[2018.02,4.2,0.1],[2018.03,5.3,0.15],[2018.05,4.7,0.12],
  [2018.06,5.6,0.15],[2018.08,6.91,0.1],[2018.09,5.1,0.15],[2018.1,4.4,0.1],[2018.12,5.8,0.15],[2018.13,4.9,0.15],
  [2018.15,5.4,0.15],[2018.16,4.15,0.06],[2018.18,6.0,0.15],[2018.19,4.7,0.12],[2018.21,5.2,0.15],[2018.22,4.05,0.05],
  [2018.24,5.7,0.15],[2018.25,4.5,0.12],[2018.27,6.2,0.15],[2018.28,5.0,0.15],[2018.3,5.5,0.15],[2018.31,6.5,0.15],
  [2018.32,6.9,0.12],[2018.33,7.4,0.08],[2018.34,7.1,0.1],[2018.35,6.3,0.15],[2018.36,5.8,0.15],[2018.37,6.6,0.12],
  [2018.38,5.3,0.15],[2018.39,4.32,0.04],
  [2017.97,4.2,0.1],[2017.99,5.0,0.2],[2018.01,4.6,0.15],[2018.02,5.5,0.2],[2018.04,4.35,0.12],[2018.05,5.1,0.2],
  [2018.07,6.1,0.2],[2018.08,5.4,0.2],[2018.1,4.8,0.2],[2018.11,5.3,0.2],[2018.13,5.9,0.2],[2018.14,4.6,0.15],
  [2018.16,5.6,0.2],[2018.17,5.1,0.2],[2018.19,5.45,0.2],[2018.2,4.4,0.12],[2018.22,5.9,0.2],[2018.23,4.9,0.2],
  [2018.25,5.3,0.2],[2018.26,4.6,0.15],[2018.28,5.8,0.2],[2018.29,6.3,0.2],[2018.3,5.1,0.2],[2018.32,6.0,0.2],
  [2018.33,6.7,0.2],[2018.34,5.6,0.2],[2018.35,7.0,0.15],[2018.36,6.4,0.2],[2018.37,5.9,0.2],[2018.38,6.9,0.15],
  [2018.39,5.5,0.2]];

// ---- layout ----
const width = 2603, height = 1049;
const frame = { left: 211, right: 2574, top: 10, bottom: 934 };

const svg = d3.select("#chart").append("svg")
    .attr("width", width)
    .attr("height", height);

const x = d3.scaleLinear().domain([2006.818, 2018.946]).range([frame.left, frame.right]);
const y = d3.scaleLinear().domain([2.685, 7.705]).range([frame.bottom, frame.top]);

const plot = svg.append("g");

// stable bands
const line = d3.line()
    .defined(d => d[1] != null)
    .x(d => x(d[0]))
    .y(d => y(d[1]));

const bands = [
    { data: blackBottom, color: "#000", w: 13 },
    { data: blackSecond, color: "#000", w: 12 },
    { data: blackEarlyA, color: "#000", w: 9 },
    { data: blackEarlyB, color: "#000", w: 9 },
    { data: blackTopA, color: "#000", w: 11 },
    { data: blackTopB, color: "#000", w: 12 },
    { data: blackTopC, color: "#000", w: 10 },
    { data: blackMain, color: "#000", w: 9 },
    { data: blackMid, color: "#000", w: 20 },
    { data: blackMidB, color: "#000", w: 9 },
    { data: redTop, color: "#f00", w: 10 },
    { data: redEarly, color: "#f00", w: 8 },
    { data: redMid, color: "#f00", w: 9 },
    { data: redLow, color: "#f00", w: 9 },
    { data: redSecond, color: "#f00", w: 8 },
    { data: redBottom, color: "#f00", w: 3 }
];

plot.append("g").selectAll("path")
    .data(bands)
    .join("path")
    .attr("d", d => line(d.data))
    .attr("fill", "none")
    .attr("stroke", d => d.color)
    .attr("stroke-width", d => d.w)
    .attr("stroke-linejoin", "round");

plot.append("g").selectAll("rect")
    .data(blackDots)
    .join("rect")
    .attr("x", d => x(d[0]) - 2.5)
    .attr("y", d => y(d[1]) - 2.5)
    .attr("width", 5)
    .attr("height", 5)
    .attr("fill", "#000");

// red points with error bars
const redPoints = [].concat(redInBand, red2008, red2009, red2010, red2011, red2012, red2013,
    red2014, red2015, red2016, red2016b, red2017, red2018);
const xErr = 0.022;

const pts = plot.append("g")
    .attr("stroke", "#f00")
    .attr("stroke-width", 3)
  .selectAll("g")
    .data(redPoints)
    .join("g");

pts.append("line")
    .attr("x1", d => x(d[0])).attr("x2", d => x(d[0]))
    .attr("y1", d => y(d[1] - d[2])).attr("y2", d => y(d[1] + d[2]));

pts.append("line")
    .attr("x1", d => x(d[0] - xErr)).attr("x2", d => x(d[0] + xErr))
    .attr("y1", d => y(d[1])).attr("y2", d => y(d[1]));

pts.append("rect")
    .attr("x", d => x(d[0]) - 3)
    .attr("y", d => y(d[1]) - 3)
    .attr("width", 6)
    .attr("height", 6)
    .attr("fill", "#f00")
    .attr("stroke", "none");

// ---- axes (ROOT style: ticks inside, left and bottom only) ----
const axes = svg.append("g").attr("stroke", "#000").attr("stroke-width", 3);

axes.selectAll(".ymaj").data(yMajorTicks).join("line")
    .attr("x1", frame.left).attr("x2", frame.left + 68)
    .attr("y1", d => y(d)).attr("y2", d => y(d));
axes.selectAll(".ymin").data(yMinorTicks).join("line")
    .attr("x1", frame.left).attr("x2", frame.left + 34)
    .attr("y1", d => y(d)).attr("y2", d => y(d));
axes.selectAll(".xmaj").data(xMajorTicks).join("line")
    .attr("x1", d => x(d)).attr("x2", d => x(d))
    .attr("y1", frame.bottom).attr("y2", frame.bottom - 28);
axes.selectAll(".xmin").data(xMinorTicks).join("line")
    .attr("x1", d => x(d)).attr("x2", d => x(d))
    .attr("y1", frame.bottom).attr("y2", frame.bottom - 14);

svg.append("rect")
    .attr("x", frame.left).attr("y", frame.top)
    .attr("width", frame.right - frame.left)
    .attr("height", frame.bottom - frame.top)
    .attr("fill", "none")
    .attr("stroke", "#000")
    .attr("stroke-width", 3.5);

svg.append("g").selectAll("text")
    .data(yMajorTicks)
    .join("text")
    .attr("x", 196)
    .attr("y", d => y(d))
    .attr("dy", "0.34em")
    .attr("text-anchor", "end")
    .style("font-size", "49px")
    .text(d => d);

svg.append("g").selectAll("text")
    .data(xMajorTicks)
    .join("text")
    .attr("x", d => x(d))
    .attr("y", 984)
    .attr("text-anchor", "middle")
    .style("font-size", "49px")
    .text(d => d);

svg.append("text")
    .attr("transform", "translate(68,10) rotate(-90)")
    .attr("text-anchor", "end")
    .style("font-size", "61px")
    .text("area/peak [25 ns]");

svg.append("text")
    .attr("x", 2568)
    .attr("y", 1033)
    .attr("text-anchor", "end")
    .style("font-size", "60px")
    .text("year");
</script>
</body>
</html>
